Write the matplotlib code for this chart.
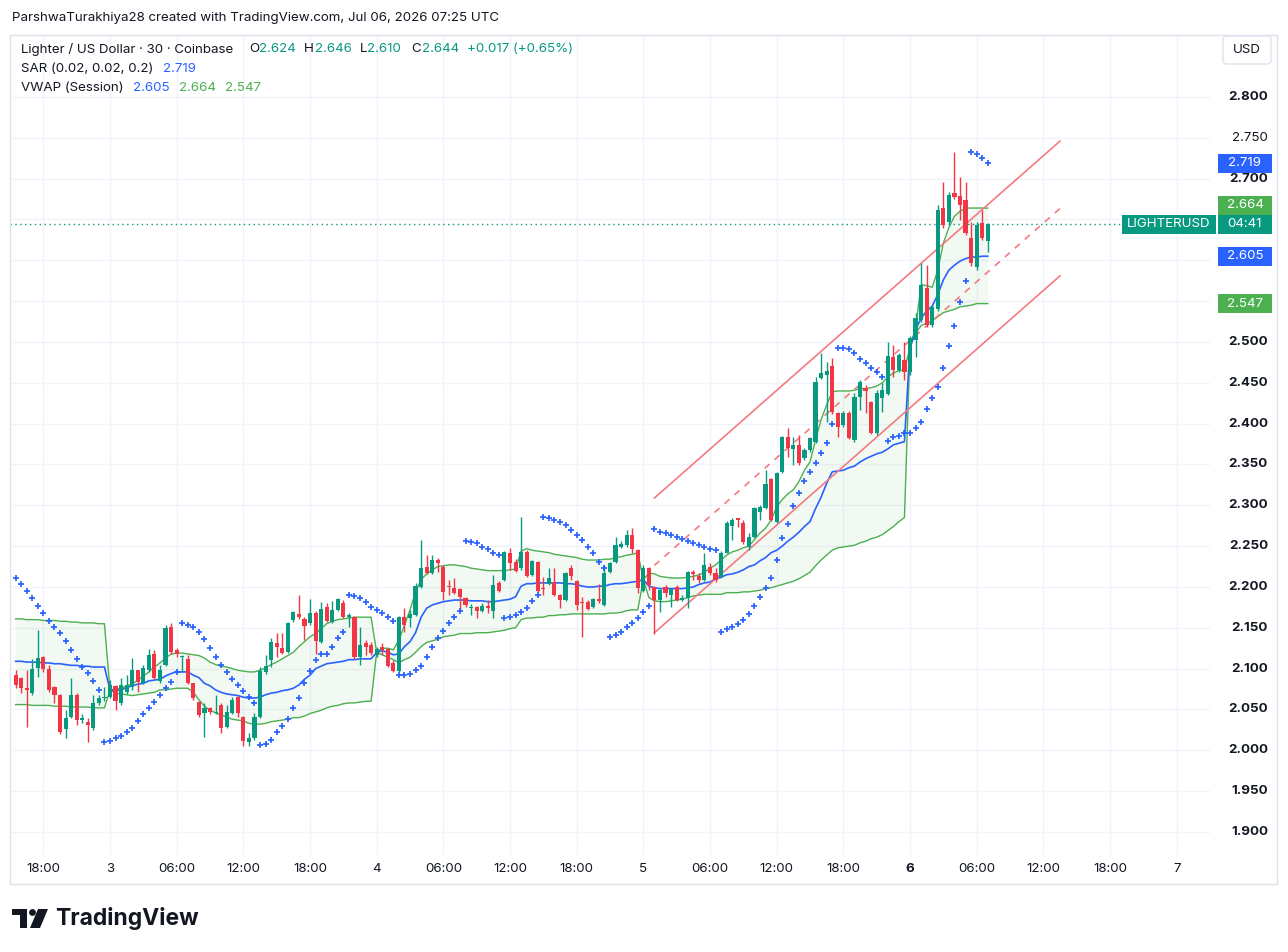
import numpy as np
import pandas as pd
import matplotlib
matplotlib.use("Agg")
import matplotlib.pyplot as plt
from matplotlib.transforms import blended_transform_factory as blend
from matplotlib.patches import Rectangle, FancyBboxPatch, Circle, Polygon

plt.rcParams['font.family'] = ['Inter', 'DejaVu Sans']

# ---------------- data (30-minute candles, Coinbase LIGHTER/USD) ----------------
start_time = "2026-07-02 15:30"

open_ = [2.092, 2.089, 2.076, 2.070, 2.101, 2.114, 2.100, 2.078, 2.068, 2.026, 2.041, 2.068, 2.037, 2.035, 2.027, 2.058, 2.064,
         2.065, 2.079, 2.058, 2.071, 2.078, 2.098, 2.083, 2.098, 2.118, 2.085, 2.105, 2.151, 2.123, 2.114, 2.112, 2.083,
         2.059, 2.046, 2.052, 2.046, 2.056, 2.029, 2.046, 2.065, 2.041, 2.010, 2.015, 2.041, 2.096, 2.111, 2.132, 2.125,
         2.120, 2.160, 2.167, 2.161, 2.156, 2.168, 2.133, 2.176, 2.157, 2.172, 2.180, 2.163, 2.163, 2.114, 2.132, 2.129,
         2.117, 2.127, 2.124, 2.107, 2.097, 2.163, 2.162, 2.166, 2.200, 2.225, 2.217, 2.233, 2.225, 2.201, 2.199, 2.198,
         2.187, 2.174, 2.176, 2.171, 2.177, 2.171, 2.205, 2.209, 2.242, 2.231, 2.223, 2.243, 2.215, 2.231, 2.199, 2.204,
         2.206, 2.190, 2.184, 2.223, 2.207, 2.182, 2.182, 2.176, 2.185, 2.178, 2.218, 2.231, 2.249, 2.251, 2.264, 2.245,
         2.195, 2.223, 2.200, 2.184, 2.200, 2.190, 2.200, 2.184, 2.187, 2.218, 2.214, 2.209, 2.225, 2.217, 2.212, 2.242,
         2.275, 2.285, 2.278, 2.249, 2.261, 2.292, 2.297, 2.332, 2.280, 2.341, 2.384, 2.369, 2.374, 2.358, 2.368, 2.378,
         2.456, 2.460, 2.471, 2.413, 2.398, 2.413, 2.380, 2.433, 2.444, 2.427, 2.389, 2.432, 2.436, 2.482, 2.466, 2.478,
         2.463, 2.503, 2.527, 2.566, 2.521, 2.540, 2.664, 2.647, 2.683, 2.679, 2.674, 2.627, 2.592, 2.646, 2.624]
high = [2.098, 2.090, 2.098, 2.112, 2.147, 2.115, 2.105, 2.079, 2.069, 2.049, 2.089, 2.070, 2.045, 2.040, 2.068, 2.068, 2.078,
        2.086, 2.080, 2.089, 2.092, 2.113, 2.098, 2.105, 2.124, 2.123, 2.105, 2.154, 2.156, 2.125, 2.117, 2.117, 2.083,
        2.060, 2.058, 2.053, 2.068, 2.058, 2.056, 2.065, 2.067, 2.042, 2.021, 2.046, 2.102, 2.117, 2.138, 2.144, 2.144,
        2.157, 2.171, 2.190, 2.163, 2.185, 2.170, 2.182, 2.180, 2.183, 2.187, 2.184, 2.168, 2.165, 2.151, 2.135, 2.133,
        2.127, 2.132, 2.125, 2.111, 2.165, 2.174, 2.172, 2.205, 2.258, 2.239, 2.239, 2.235, 2.227, 2.209, 2.211, 2.199,
        2.188, 2.179, 2.177, 2.180, 2.184, 2.215, 2.207, 2.244, 2.248, 2.234, 2.286, 2.245, 2.233, 2.232, 2.212, 2.223,
        2.223, 2.192, 2.218, 2.227, 2.209, 2.188, 2.184, 2.187, 2.204, 2.227, 2.231, 2.261, 2.256, 2.270, 2.272, 2.247,
        2.227, 2.225, 2.201, 2.198, 2.203, 2.199, 2.203, 2.190, 2.220, 2.221, 2.217, 2.242, 2.229, 2.223, 2.244, 2.281,
        2.285, 2.285, 2.282, 2.266, 2.298, 2.300, 2.343, 2.334, 2.341, 2.385, 2.395, 2.384, 2.386, 2.370, 2.384, 2.457,
        2.487, 2.476, 2.480, 2.414, 2.416, 2.416, 2.438, 2.454, 2.447, 2.428, 2.441, 2.450, 2.500, 2.496, 2.487, 2.500,
        2.507, 2.536, 2.597, 2.594, 2.545, 2.668, 2.696, 2.684, 2.733, 2.702, 2.696, 2.647, 2.647, 2.662, 2.646]
low = [2.076, 2.070, 2.029, 2.068, 2.090, 2.096, 2.071, 2.058, 2.020, 2.015, 2.039, 2.031, 2.033, 2.010, 2.025, 2.056, 2.060,
       2.064, 2.049, 2.056, 2.069, 2.074, 2.071, 2.081, 2.096, 2.087, 2.083, 2.103, 2.118, 2.114, 2.096, 2.081, 2.062,
       2.041, 2.016, 2.045, 2.044, 2.021, 2.027, 2.044, 2.041, 2.005, 2.005, 2.013, 2.040, 2.094, 2.102, 2.114, 2.118,
       2.119, 2.157, 2.161, 2.135, 2.154, 2.118, 2.131, 2.157, 2.156, 2.170, 2.162, 2.151, 2.112, 2.105, 2.117, 2.117,
       2.114, 2.117, 2.102, 2.096, 2.096, 2.145, 2.151, 2.164, 2.199, 2.216, 2.216, 2.218, 2.184, 2.190, 2.192, 2.172,
       2.176, 2.166, 2.162, 2.169, 2.168, 2.162, 2.194, 2.207, 2.221, 2.218, 2.221, 2.212, 2.214, 2.194, 2.190, 2.202,
       2.189, 2.174, 2.183, 2.209, 2.172, 2.139, 2.172, 2.174, 2.180, 2.177, 2.217, 2.229, 2.248, 2.249, 2.242, 2.193,
       2.194, 2.196, 2.143, 2.169, 2.188, 2.176, 2.183, 2.183, 2.174, 2.209, 2.205, 2.207, 2.215, 2.206, 2.211, 2.241,
       2.258, 2.274, 2.253, 2.245, 2.260, 2.282, 2.296, 2.281, 2.278, 2.340, 2.359, 2.349, 2.349, 2.356, 2.365, 2.376,
       2.455, 2.402, 2.412, 2.384, 2.396, 2.381, 2.378, 2.417, 2.413, 2.387, 2.386, 2.414, 2.435, 2.457, 2.463, 2.454,
       2.460, 2.482, 2.525, 2.518, 2.518, 2.538, 2.640, 2.643, 2.675, 2.649, 2.631, 2.593, 2.588, 2.625, 2.610]
close = [2.080, 2.076, 2.074, 2.100, 2.113, 2.100, 2.074, 2.068, 2.023, 2.040, 2.068, 2.037, 2.040, 2.031, 2.058, 2.064, 2.065,
         2.080, 2.060, 2.080, 2.080, 2.098, 2.084, 2.101, 2.117, 2.089, 2.098, 2.150, 2.120, 2.118, 2.116, 2.083, 2.064,
         2.043, 2.052, 2.047, 2.047, 2.027, 2.047, 2.062, 2.046, 2.011, 2.015, 2.041, 2.097, 2.103, 2.133, 2.127, 2.119,
         2.156, 2.169, 2.163, 2.152, 2.168, 2.134, 2.173, 2.158, 2.172, 2.185, 2.163, 2.166, 2.114, 2.129, 2.127, 2.119,
         2.124, 2.123, 2.103, 2.097, 2.163, 2.154, 2.167, 2.201, 2.223, 2.217, 2.233, 2.229, 2.194, 2.200, 2.193, 2.188,
         2.178, 2.176, 2.171, 2.177, 2.174, 2.203, 2.195, 2.243, 2.229, 2.220, 2.243, 2.214, 2.232, 2.195, 2.198, 2.211,
         2.190, 2.184, 2.217, 2.214, 2.178, 2.180, 2.173, 2.185, 2.183, 2.217, 2.229, 2.251, 2.253, 2.264, 2.247, 2.199,
         2.223, 2.203, 2.184, 2.196, 2.193, 2.198, 2.184, 2.187, 2.218, 2.216, 2.209, 2.227, 2.217, 2.209, 2.242, 2.278,
         2.282, 2.282, 2.255, 2.261, 2.297, 2.298, 2.326, 2.282, 2.340, 2.384, 2.370, 2.374, 2.352, 2.368, 2.383, 2.451,
         2.462, 2.465, 2.414, 2.396, 2.413, 2.383, 2.433, 2.451, 2.440, 2.389, 2.438, 2.441, 2.483, 2.466, 2.484, 2.463,
         2.505, 2.529, 2.570, 2.521, 2.543, 2.662, 2.643, 2.680, 2.678, 2.668, 2.634, 2.597, 2.643, 2.627, 2.644]

# Parabolic SAR (0.02, 0.02, 0.2)
sar = [2.211, 2.204, 2.195, 2.187, 2.177, 2.168, 2.158, 2.151, 2.144, 2.134, 2.123, 2.112, 2.102, 2.095, 2.085, 2.074, 2.010,
       2.011, 2.015, 2.018, 2.022, 2.027, 2.036, 2.045, 2.052, 2.059, 2.068, 2.076, 2.084, 2.096, 2.156, 2.153, 2.151,
       2.145, 2.136, 2.125, 2.114, 2.105, 2.096, 2.087, 2.080, 2.073, 2.065, 2.058, 2.007, 2.008, 2.013, 2.022, 2.030,
       2.038, 2.052, 2.064, 2.082, 2.097, 2.111, 2.118, 2.118, 2.127, 2.138, 2.145, 2.190, 2.189, 2.187, 2.182, 2.176,
       2.172, 2.168, 2.163, 2.158, 2.092, 2.092, 2.094, 2.098, 2.103, 2.114, 2.127, 2.138, 2.146, 2.156, 2.163, 2.171,
       2.256, 2.255, 2.254, 2.249, 2.247, 2.242, 2.239, 2.162, 2.163, 2.166, 2.169, 2.174, 2.183, 2.190, 2.286, 2.285,
       2.282, 2.280, 2.276, 2.270, 2.264, 2.258, 2.249, 2.242, 2.231, 2.223, 2.139, 2.141, 2.145, 2.151, 2.156, 2.162,
       2.169, 2.177, 2.271, 2.267, 2.266, 2.264, 2.261, 2.259, 2.256, 2.254, 2.251, 2.249, 2.247, 2.245, 2.145, 2.149,
       2.151, 2.155, 2.160, 2.167, 2.177, 2.188, 2.199, 2.211, 2.233, 2.260, 2.277, 2.299, 2.315, 2.330, 2.341, 2.352,
       2.364, 2.376, 2.400, 2.493, 2.493, 2.491, 2.487, 2.479, 2.474, 2.468, 2.463, 2.457, 2.379, 2.384, 2.385, 2.389,
       2.389, 2.395, 2.402, 2.418, 2.431, 2.445, 2.468, 2.495, 2.520, 2.549, 2.575, 2.733, 2.730, 2.725, 2.719]

# VWAP (Session) with upper / lower bands
vwap = [2.109, 2.109, 2.108, 2.108, 2.108, 2.107, 2.107, 2.106, 2.106, 2.105, 2.104, 2.104, 2.103, 2.103, 2.102, 2.102, 2.102,
        2.074, 2.073, 2.074, 2.077, 2.079, 2.081, 2.082, 2.085, 2.086, 2.087, 2.091, 2.094, 2.096, 2.096, 2.096, 2.092,
        2.089, 2.082, 2.079, 2.074, 2.071, 2.069, 2.068, 2.067, 2.065, 2.064, 2.064, 2.065, 2.068, 2.070, 2.071, 2.073,
        2.074, 2.076, 2.080, 2.087, 2.092, 2.100, 2.103, 2.106, 2.107, 2.108, 2.109, 2.111, 2.111, 2.112, 2.112, 2.112,
        2.120, 2.122, 2.120, 2.117, 2.118, 2.127, 2.133, 2.144, 2.163, 2.174, 2.178, 2.180, 2.182, 2.183, 2.184, 2.184,
        2.184, 2.183, 2.183, 2.183, 2.182, 2.182, 2.183, 2.184, 2.185, 2.188, 2.201, 2.204, 2.204, 2.205, 2.205, 2.205,
        2.205, 2.205, 2.204, 2.204, 2.203, 2.201, 2.200, 2.200, 2.201, 2.201, 2.203, 2.204, 2.204, 2.205, 2.206, 2.207,
        2.209, 2.201, 2.199, 2.198, 2.198, 2.198, 2.198, 2.198, 2.199, 2.200, 2.203, 2.205, 2.206, 2.210, 2.212, 2.215,
        2.216, 2.218, 2.221, 2.225, 2.227, 2.232, 2.236, 2.242, 2.245, 2.250, 2.256, 2.261, 2.267, 2.274, 2.280, 2.296,
        2.310, 2.327, 2.341, 2.342, 2.343, 2.346, 2.348, 2.353, 2.357, 2.360, 2.363, 2.365, 2.369, 2.374, 2.376, 2.378,
        2.493, 2.515, 2.529, 2.538, 2.544, 2.558, 2.576, 2.588, 2.594, 2.599, 2.602, 2.604, 2.604, 2.605, 2.605]
vwap_upper = [2.161, 2.161, 2.160, 2.160, 2.160, 2.159, 2.159, 2.159, 2.158, 2.158, 2.157, 2.157, 2.156, 2.156, 2.156, 2.155, 2.155,
              2.074, 2.075, 2.076, 2.079, 2.081, 2.086, 2.091, 2.096, 2.102, 2.107, 2.113, 2.118, 2.119, 2.119, 2.118, 2.117,
              2.116, 2.113, 2.108, 2.105, 2.103, 2.102, 2.100, 2.098, 2.097, 2.096, 2.096, 2.098, 2.101, 2.105, 2.108, 2.112,
              2.116, 2.120, 2.127, 2.133, 2.139, 2.143, 2.149, 2.155, 2.158, 2.160, 2.161, 2.162, 2.163, 2.163, 2.163, 2.163,
              2.120, 2.125, 2.125, 2.123, 2.135, 2.153, 2.172, 2.194, 2.209, 2.216, 2.221, 2.225, 2.226, 2.227, 2.227, 2.226,
              2.225, 2.223, 2.222, 2.221, 2.220, 2.220, 2.220, 2.220, 2.221, 2.222, 2.244, 2.247, 2.245, 2.244, 2.243, 2.242,
              2.240, 2.239, 2.238, 2.237, 2.236, 2.234, 2.233, 2.233, 2.233, 2.234, 2.234, 2.236, 2.237, 2.239, 2.240, 2.242,
              2.209, 2.217, 2.216, 2.213, 2.212, 2.211, 2.211, 2.211, 2.212, 2.213, 2.215, 2.218, 2.223, 2.227, 2.233, 2.239,
              2.243, 2.245, 2.248, 2.250, 2.258, 2.266, 2.272, 2.282, 2.298, 2.307, 2.314, 2.319, 2.329, 2.343, 2.353, 2.380,
              2.405, 2.423, 2.439, 2.440, 2.440, 2.440, 2.441, 2.443, 2.443, 2.444, 2.446, 2.450, 2.457, 2.462, 2.465, 2.466,
              2.493, 2.517, 2.570, 2.569, 2.567, 2.588, 2.621, 2.640, 2.654, 2.660, 2.664, 2.664, 2.664, 2.664, 2.664]
vwap_lower = [2.056, 2.056, 2.056, 2.055, 2.055, 2.055, 2.055, 2.054, 2.054, 2.054, 2.053, 2.053, 2.053, 2.053, 2.052, 2.052, 2.052,
              2.074, 2.070, 2.069, 2.068, 2.067, 2.068, 2.069, 2.070, 2.071, 2.074, 2.074, 2.075, 2.076, 2.076, 2.076, 2.071,
              2.062, 2.054, 2.049, 2.046, 2.043, 2.041, 2.038, 2.037, 2.036, 2.033, 2.032, 2.032, 2.033, 2.035, 2.036, 2.037,
              2.038, 2.040, 2.040, 2.042, 2.045, 2.047, 2.049, 2.052, 2.054, 2.055, 2.057, 2.058, 2.058, 2.059, 2.060, 2.060,
              2.120, 2.117, 2.114, 2.111, 2.107, 2.111, 2.114, 2.120, 2.127, 2.132, 2.134, 2.136, 2.139, 2.140, 2.141, 2.143,
              2.143, 2.143, 2.144, 2.144, 2.144, 2.145, 2.146, 2.147, 2.149, 2.150, 2.160, 2.162, 2.162, 2.163, 2.163, 2.165,
              2.165, 2.166, 2.166, 2.167, 2.167, 2.167, 2.167, 2.167, 2.167, 2.167, 2.168, 2.168, 2.169, 2.171, 2.172, 2.172,
              2.209, 2.187, 2.183, 2.182, 2.182, 2.183, 2.184, 2.185, 2.187, 2.189, 2.190, 2.191, 2.191, 2.191, 2.191, 2.193,
              2.193, 2.193, 2.194, 2.194, 2.195, 2.196, 2.198, 2.199, 2.201, 2.203, 2.205, 2.207, 2.210, 2.214, 2.218, 2.226,
              2.233, 2.239, 2.245, 2.248, 2.249, 2.250, 2.251, 2.254, 2.256, 2.259, 2.261, 2.264, 2.269, 2.274, 2.280, 2.285,
              2.493, 2.511, 2.520, 2.523, 2.526, 2.531, 2.536, 2.538, 2.540, 2.543, 2.544, 2.545, 2.547, 2.547, 2.547]

# parallel channel drawing (anchor times, upper / lower prices)
channel_times = ["2026-07-05 01:00", "2026-07-06 13:30"]
channel_upper = [2.309, 2.746]
channel_lower = [2.144, 2.581]

price_ticks = [1.90, 1.95, 2.00, 2.05, 2.10, 2.15, 2.20, 2.25, 2.30, 2.35, 2.40, 2.45, 2.50, 2.55, 2.60, 2.65, 2.70, 2.75, 2.80]
price_labels_shown = ["1.900", "1.950", "2.000", "2.050", "2.100", "2.150", "2.200", "2.250", "2.300", "2.350",
                      "2.400", "2.450", "2.500", "2.700", "2.750", "2.800"]
time_ticks = ["2026-07-02 18:00", "2026-07-03 00:00", "2026-07-03 06:00", "2026-07-03 12:00", "2026-07-03 18:00",
              "2026-07-04 00:00", "2026-07-04 06:00", "2026-07-04 12:00", "2026-07-04 18:00", "2026-07-05 00:00",
              "2026-07-05 06:00", "2026-07-05 12:00", "2026-07-05 18:00", "2026-07-06 00:00", "2026-07-06 06:00",
              "2026-07-06 12:00", "2026-07-06 18:00", "2026-07-07 00:00"]
time_labels = ["18:00", "3", "06:00", "12:00", "18:00", "4", "06:00", "12:00", "18:00", "5",
               "06:00", "12:00", "18:00", "6", "06:00", "12:00", "18:00", "7"]

# ---------------- drawing ----------------
UP, DOWN = '#089981', '#f23645'
BLUE, GREEN = '#2962ff', '#4caf50'
CH = '#f47a82'
TXT = '#131722'
GRID = '#f0f3fa'

o, h, l, c = map(np.asarray, (open_, high, low, close))
times = pd.date_range(start_time, periods=len(c), freq="30min")
t0 = times[0]
def tpos(ts):
    return (pd.Timestamp(ts) - t0) / pd.Timedelta("30min")
x = np.array([tpos(t) for t in times])

W, H = 1288, 952
fig = plt.figure(figsize=(W / 100, H / 100), dpi=100)
fig.patch.set_facecolor('white')
PL, PR, PT, PB = 10, 1210, 35, 855
ax = fig.add_axes([PL / W, 1 - PB / H, (PR - PL) / W, (PB - PT) / H])
ax.set_xlim(-1.0, 215.0)
ax.set_ylim(1.8718, 2.8759)
ax.set_facecolor('white')
for s in ax.spines.values():
    s.set_visible(False)
ax.set_xticks([]); ax.set_yticks([])

# overlay in pixel coordinates for furniture
ov = fig.add_axes([0, 0, 1, 1], zorder=5)
ov.set_xlim(0, W); ov.set_ylim(H, 0)
ov.axis('off'); ov.patch.set_alpha(0)

# grid
for p in price_ticks:
    ax.axhline(p, color=GRID, lw=1, zorder=0)
for t in time_ticks:
    ax.axvline(tpos(t), color=GRID, lw=1, zorder=0)

# VWAP bands
ax.fill_between(x, vwap_lower, vwap_upper, color=GREEN, alpha=0.07, lw=0, zorder=1)
ax.plot(x, vwap_upper, color=GREEN, lw=1.0, zorder=2)
ax.plot(x, vwap_lower, color=GREEN, lw=1.0, zorder=2)
ax.plot(x, vwap, color=BLUE, lw=1.2, zorder=2)

# channel
cx = [tpos(t) for t in channel_times]
cmid = [(a + b) / 2 for a, b in zip(channel_upper, channel_lower)]
ax.plot(cx, channel_upper, color=CH, lw=1.2, zorder=3)
ax.plot(cx, channel_lower, color=CH, lw=1.2, zorder=3)
ax.plot(cx, cmid, color=CH, lw=1.2, ls=(0, (4, 4)), zorder=3)

# candles
cols = np.where(c >= o, UP, DOWN)
ax.vlines(x, l, h, colors=cols, lw=1.0, zorder=4)
body = np.maximum(np.abs(c - o), 0.0013)
ax.bar(x, body, bottom=np.minimum(o, c), width=0.74, color=cols, lw=0, zorder=5)

# SAR
ax.plot(x, sar, ls='none', marker='+', ms=4.0, mew=1.25, color=BLUE, zorder=6)

# last price dotted line
ax.axhline(c[-1], color=UP, lw=1.0, ls=(0, (1, 2.5)), zorder=3)

# ---- furniture ----
FS = 9.6
pax = blend(ov.transData, ax.transData)   # x pixel, y price
tax = blend(ax.transData, ov.transData)   # x time, y pixel

ov.text(12, 18, "ParshwaTurakhiya28 created with TradingView.com, Jul 06, 2026 07:25 UTC",
        fontsize=FS, color=TXT, va='center', ha='left')

legend = [
    [("Lighter / US Dollar · 30 · Coinbase", 21, TXT), ("O", 249, TXT), ("2.624", 259, UP),
     ("H", 304, TXT), ("2.646", 315, UP), ("L", 360, TXT), ("2.610", 367, UP), ("C", 411, TXT),
     ("2.644", 422, UP), ("+0.017 (+0.65%)", 467, UP)],
    [("SAR (0.02, 0.02, 0.2)", 21, TXT), ("2.719", 163, BLUE)],
    [("VWAP (Session)", 21, TXT), ("2.605", 133, BLUE), ("2.664", 179, GREEN), ("2.547", 225, GREEN)],
]
for row, yy in zip(legend, [49, 69, 88]):
    for txt, xx, col in row:
        ov.text(xx, yy, txt, fontsize=FS, color=col, va='center', ha='left')

# price axis labels
for p, lab in zip(price_ticks, ["%.3f" % v for v in price_ticks]):
    if lab not in price_labels_shown:
        continue
    wt = 'normal' if lab == "2.750" else 'bold'
    ov.text(1268, p, lab, transform=pax, fontsize=FS, color=TXT, ha='right', va='center', fontweight=wt)

# time axis labels
for t, lab in zip(time_ticks, time_labels):
    ov.text(tpos(t), 869, lab, transform=tax, fontsize=FS, color=TXT, ha='center', va='center',
            fontweight='bold' if lab == "6" else 'normal')

# USD box
ov.add_patch(FancyBboxPatch((1223, 36), 48, 28, boxstyle="round,pad=0,rounding_size=4",
                            fc='white', ec='#e0e3eb', lw=1))
ov.text(1247, 50, "USD", fontsize=FS, color=TXT, ha='center', va='center')

# colored value labels on price scale
ppx = (ax.get_ylim()[1] - ax.get_ylim()[0]) / (PB - PT)   # price per pixel
def value_box(price, text, color, x0=1218, x1=1272, shift_px=0.0):
    yc = price - shift_px * ppx
    hh = 19 * ppx
    ov.add_patch(FancyBboxPatch((x0, yc - hh / 2), x1 - x0, hh, transform=pax,
                                boxstyle="square,pad=0", fc=color, ec='none', zorder=6))
    ov.text((x0 + x1) / 2, yc, text, transform=pax, fontsize=FS, color='white',
            ha='center', va='center', zorder=7)

value_box(sar[-1], "%.3f" % sar[-1], BLUE)
value_box(vwap_upper[-1], "%.3f" % vwap_upper[-1], GREEN, shift_px=-3)
value_box(c[-1], "04:41", UP)
value_box(c[-1], "LIGHTERUSD", UP, x0=1122, x1=1216)
value_box(vwap[-1], "%.3f" % vwap[-1], BLUE)
value_box(vwap_lower[-1], "%.3f" % vwap_lower[-1], GREEN)

# frame
ov.add_patch(Rectangle((10, 35), 1267, 849, fill=False, ec='#e0e3eb', lw=1))

# TradingView logo
ov.add_patch(Polygon([(12, 909), (27, 909), (27, 928), (20, 928), (20, 915), (12, 915)], closed=True, fc='#131722', ec='none'))
ov.add_patch(Circle((32.5, 912.5), 3.4, fc='#131722', ec='none'))
ov.add_patch(Polygon([(38, 909), (48, 909), (40, 928), (30, 928)], closed=True, fc='#131722', ec='none'))
ov.text(55, 918, "TradingView", fontsize=16.5, fontweight='bold', color='#131722', va='center', ha='left')

fig.savefig("out.png", dpi=100, facecolor='white')
